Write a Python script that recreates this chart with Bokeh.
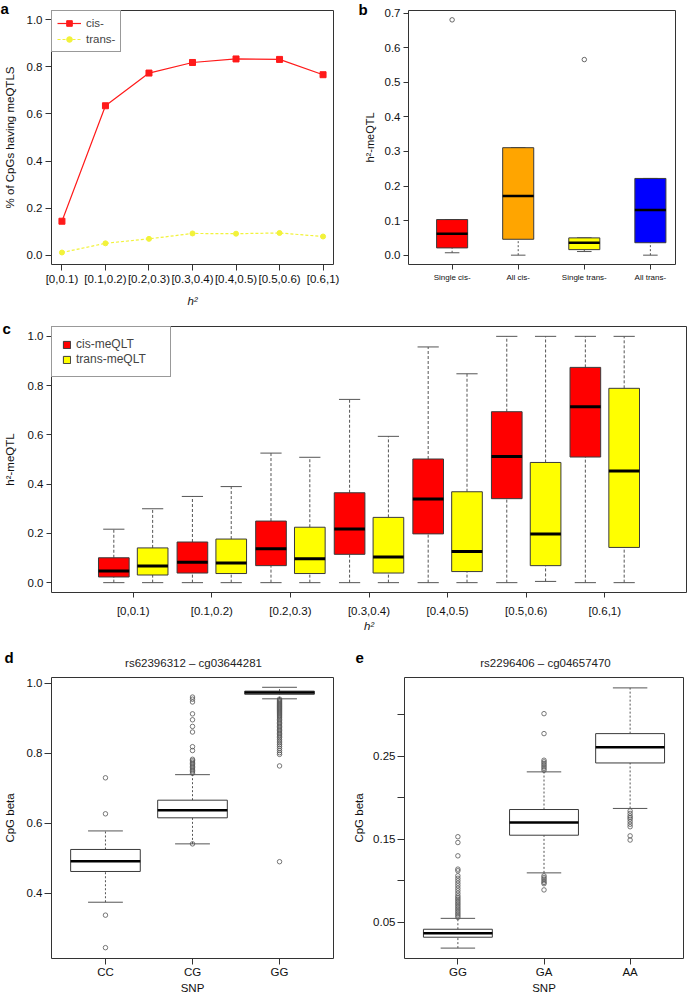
from bokeh.plotting import figure
from bokeh.layouts import column, row
from bokeh.models import FixedTicker, Label, Range1d, PrintfTickFormatter
from bokeh.embed import file_html
from bokeh.resources import INLINE

FONT = "Liberation Sans"

# ---------------- data ----------------
# panel a
a_bins = ["[0,0.1)", "[0.1,0.2)", "[0.2,0.3)", "[0.3,0.4)", "[0.4,0.5)", "[0.5,0.6)", "[0.6,1)"]
a_cis = [0.144, 0.635, 0.774, 0.819, 0.834, 0.832, 0.767]
a_trans = [0.011, 0.050, 0.069, 0.092, 0.091, 0.094, 0.079]

# panel b
b_groups = ["Single cis-", "All cis-", "Single trans-", "All trans-"]
b_low = [0.007, 0.0, 0.0105, 0.0]
b_q1 = [0.021, 0.046, 0.016, 0.036]
b_med = [0.062, 0.171, 0.036, 0.131]
b_q3 = [0.103, 0.311, 0.050, 0.222]
b_up = [0.103, 0.311, 0.050, 0.222]
b_colors = ["#FF0000", "#FFA500", "#FFFF00", "#0000FF"]
b_out_group = ["Single cis-", "Single trans-"]
b_out_val = [0.681, 0.566]

# panel c
c_bins = a_bins
c_cis_low = [0.0, 0.0, 0.0, 0.0, 0.0, 0.0, 0.0]
c_cis_q1 = [0.023, 0.039, 0.069, 0.115, 0.198, 0.341, 0.510]
c_cis_med = [0.047, 0.083, 0.138, 0.218, 0.340, 0.512, 0.714]
c_cis_q3 = [0.101, 0.165, 0.250, 0.365, 0.502, 0.694, 0.874]
c_cis_up = [0.217, 0.350, 0.526, 0.744, 0.957, 1.0, 1.0]
c_trans_low = [0.0, 0.0, 0.0, 0.0, 0.0, 0.005, 0.0]
c_trans_q1 = [0.031, 0.037, 0.037, 0.039, 0.045, 0.069, 0.143]
c_trans_med = [0.068, 0.080, 0.097, 0.104, 0.126, 0.198, 0.453]
c_trans_q3 = [0.141, 0.177, 0.225, 0.265, 0.369, 0.488, 0.789]
c_trans_up = [0.300, 0.390, 0.509, 0.594, 0.848, 1.0, 1.0]

# panel d
d_title = "rs62396312 \u2013 cg03644281"
d_geno = ["CC", "CG", "GG"]
d_low = [0.374, 0.541, 0.956]
d_q1 = [0.462, 0.6155, 0.969]
d_med = [0.4916, 0.637, 0.974]
d_q3 = [0.525, 0.666, 0.978]
d_up = [0.578, 0.739, 0.989]
d_out_CC = [0.730, 0.627, 0.337, 0.244]
d_out_CG = [0.961, 0.955, 0.947, 0.913, 0.896, 0.877, 0.861, 0.819, 0.808,
            0.783, 0.779, 0.775, 0.771, 0.767, 0.763, 0.759, 0.755, 0.751, 0.747, 0.743, 0.541]
d_out_GG = [0.955, 0.952, 0.949, 0.946, 0.943, 0.940, 0.937, 0.934, 0.931, 0.928, 0.925,
            0.922, 0.919, 0.916, 0.913, 0.910, 0.907, 0.904, 0.901, 0.897, 0.893, 0.889,
            0.885, 0.881, 0.877, 0.873, 0.869, 0.865, 0.861, 0.857, 0.853, 0.849, 0.845,
            0.840, 0.835, 0.830, 0.825, 0.820, 0.814, 0.808, 0.802, 0.797, 0.764, 0.490]

# panel e
e_title = "rs2296406 \u2013 cg04657470"
e_geno = ["GG", "GA", "AA"]
e_low = [0.019, 0.1095, 0.187]
e_q1 = [0.0321, 0.1548, 0.2417]
e_med = [0.0369, 0.170, 0.2607]
e_q3 = [0.0417, 0.1857, 0.277]
e_up = [0.0548, 0.231, 0.332]
e_out_GG = [0.056, 0.058, 0.060, 0.062, 0.064, 0.066, 0.068, 0.070, 0.072, 0.074, 0.076,
            0.078, 0.080, 0.082, 0.085, 0.088, 0.091, 0.094, 0.097, 0.100, 0.103, 0.106,
            0.112, 0.114, 0.130, 0.146, 0.153]
e_out_GA = [0.233, 0.235, 0.237, 0.239, 0.241, 0.243, 0.245, 0.277, 0.301,
            0.106, 0.104, 0.102, 0.100, 0.098, 0.0965, 0.089]
e_out_AA = [0.184, 0.181, 0.178, 0.176, 0.174, 0.171, 0.168, 0.165, 0.154, 0.149]


# ---------------- helpers ----------------
def base_fig(w, h, xr, yr, bl, br, bt, bb):
    p = figure(width=w, height=h, x_range=Range1d(*xr), y_range=Range1d(*yr),
               output_backend="svg", toolbar_location=None,
               min_border_left=bl, min_border_right=br, min_border_top=bt, min_border_bottom=bb)
    p.xgrid.visible = False
    p.ygrid.visible = False
    p.outline_line_color = "#333333"
    p.outline_line_alpha = 1
    p.outline_line_width = 1
    for ax in (p.xaxis[0], p.yaxis[0]):
        ax.axis_line_color = None
        ax.major_tick_line_color = "#333333"
        ax.major_tick_in = 0
        ax.major_tick_out = 5
        ax.minor_tick_line_color = None
        ax.major_label_text_font = FONT
        ax.major_label_text_color = "#111111"
        ax.axis_label_text_font = FONT
        ax.axis_label_text_font_style = "normal"
        ax.axis_label_text_color = "#111111"
    return p


def side_text(p, side, txt, x, y, size="15px", bold=True, align="left", color="#000000"):
    p.add_layout(Label(x=x, y=y, x_units="screen", y_units="screen", text=txt,
                       text_font=FONT, text_font_style="bold" if bold else "normal",
                       text_font_size=size, text_color=color, text_align=align,
                       text_baseline="alphabetic"), side)


def boxes(p, xs, low, q1, med, q3, up, w, cap, fill, dash, med_w, legend=None):
    left = [x - w / 2 for x in xs]
    right = [x + w / 2 for x in xs]
    p.segment(x0=xs, x1=xs, y0=q3, y1=up, line_color="#555555", line_dash=dash, line_width=1)
    p.segment(x0=xs, x1=xs, y0=low, y1=q1, line_color="#555555", line_dash=dash, line_width=1)
    cl = [x - cap / 2 for x in xs]
    cr = [x + cap / 2 for x in xs]
    p.segment(x0=cl, x1=cr, y0=up, y1=up, line_color="#555555", line_width=1)
    p.segment(x0=cl, x1=cr, y0=low, y1=low, line_color="#555555", line_width=1)
    kw = {} if legend is None else {"legend_label": legend}
    r = p.quad(left=left, right=right, bottom=q1, top=q3, fill_color=fill,
               line_color="#3a3a3a", line_width=1, **kw)
    p.segment(x0=left, x1=right, y0=med, y1=med, line_color="#000000", line_width=med_w)
    return r


# ---------------- panel a ----------------
A_W, A_H, A_L, A_R, A_T, A_B = 355, 309, 49, 22, 9, 45
a_x = list(range(1, len(a_bins) + 1))
pa = base_fig(A_W, A_H, (0.76, 7.24), (-0.04, 1.04), A_L, A_R, A_T, A_B)
pa.line(a_x, a_cis, line_color="#FF1A1A", line_width=1.2, legend_label="cis-")
pa.scatter(a_x, a_cis, marker="square", size=6, fill_color="#FF1A1A", line_color="#FF1A1A",
           legend_label="cis-")
pa.line(a_x, a_trans, line_color="#F2F23A", line_width=1.2, line_dash="3 2", legend_label="trans-")
pa.scatter(a_x, a_trans, marker="circle", size=5, fill_color="#F2F23A", line_color="#F2F23A",
           legend_label="trans-")
pa.xaxis.ticker = FixedTicker(ticks=a_x)
pa.xaxis.major_label_overrides = {x: b for x, b in zip(a_x, a_bins)}
pa.xaxis.major_label_text_font_size = "11.5px"
pa.xaxis.major_label_standoff = 2
pa.xaxis.axis_label = "h\u00b2"
pa.xaxis.axis_label_text_font_style = "italic"
pa.xaxis.axis_label_text_font_size = "11.5px"
pa.xaxis.axis_label_standoff = 7
pa.yaxis.ticker = FixedTicker(ticks=[0.0, 0.2, 0.4, 0.6, 0.8, 1.0])
pa.yaxis.formatter = PrintfTickFormatter(format="%.1f")
pa.yaxis.major_label_text_font_size = "11.5px"
pa.yaxis.major_label_standoff = 3
pa.yaxis.axis_label = "% of CpGs having meQTLS"
pa.yaxis.axis_label_text_font_size = "11.5px"
pa.yaxis.axis_label_standoff = 8
pa.xaxis.major_tick_out = 6
pa.yaxis.major_tick_out = 6
lg = pa.legend[0]
lg.location = "top_left"
lg.margin = 0
lg.padding = 5
lg.spacing = 2
lg.label_height = 14
lg.glyph_height = 14
lg.glyph_width = 24
lg.label_standoff = 5
lg.label_text_font = FONT
lg.label_text_font_size = "11.5px"
lg.border_line_color = "#333333"
lg.border_line_width = 1
lg.background_fill_alpha = 1
# letter drawn from the right-hand side panel (unclipped), positioned to the far left
side_text(pa, "right", "a", 0 - (A_W - A_R), (A_H - A_B) - 8)

# ---------------- panel b ----------------
B_W, B_H, B_L, B_R, B_T, B_B = 339, 309, 53, 19, 10, 45
b_x = list(range(1, len(b_groups) + 1))
pb = base_fig(B_W, B_H, (0.34, 4.38), (-0.027, 0.708), B_L, B_R, B_T, B_B)
boxes(pb, b_x, b_low, b_q1, b_med, b_q3, b_up, 0.47, 0.22, b_colors, "2 2", 2.5)
pb.scatter([b_x[b_groups.index(g)] for g in b_out_group], b_out_val, marker="circle", size=4.5,
           fill_color=None, line_color="#444444", line_width=0.8)
pb.xaxis.ticker = FixedTicker(ticks=b_x)
pb.xaxis.major_label_overrides = {x: g for x, g in zip(b_x, b_groups)}
pb.xaxis.major_label_text_font_size = "8px"
pb.xaxis.major_label_standoff = 3
pb.yaxis.ticker = FixedTicker(ticks=[0.0, 0.1, 0.2, 0.3, 0.4, 0.5, 0.6, 0.7])
pb.yaxis.formatter = PrintfTickFormatter(format="%.1f")
pb.yaxis.major_label_text_font_size = "11.5px"
pb.yaxis.major_label_standoff = 3
pb.yaxis.axis_label = "h\u00b2-meQTL"
pb.yaxis.axis_label_text_font_size = "11px"
pb.yaxis.axis_label_standoff = 6
side_text(pb, "right", "b", 3 - (B_W - B_R), (B_H - B_B) - 9)

# ---------------- panel c ----------------
C_W, C_H, C_L, C_R, C_T, C_B = 694, 331, 49, 8, 4, 48
c_x = list(range(1, len(c_bins) + 1))
pc = base_fig(C_W, C_H, (-0.04, 8.04), (-0.04, 1.04), C_L, C_R, C_T, C_B)
r_cis = boxes(pc, [x - 0.247 for x in c_x], c_cis_low, c_cis_q1, c_cis_med, c_cis_q3, c_cis_up,
              0.39, 0.27, "#FF0000", "3 2", 3, legend="cis-meQLT")
r_tr = boxes(pc, [x + 0.247 for x in c_x], c_trans_low, c_trans_q1, c_trans_med, c_trans_q3,
             c_trans_up, 0.39, 0.27, "#FFFF00", "3 2", 3, legend="trans-meQLT")
pc.xaxis.ticker = FixedTicker(ticks=c_x)
pc.xaxis.major_label_overrides = {x: b for x, b in zip(c_x, c_bins)}
pc.xaxis.major_label_text_font_size = "11.5px"
pc.xaxis.major_label_standoff = 7
pc.xaxis.axis_label = "h\u00b2"
pc.xaxis.axis_label_text_font_style = "italic"
pc.xaxis.axis_label_text_font_size = "11.5px"
pc.xaxis.axis_label_standoff = 0
pc.yaxis.ticker = FixedTicker(ticks=[0.0, 0.2, 0.4, 0.6, 0.8, 1.0])
pc.yaxis.formatter = PrintfTickFormatter(format="%.1f")
pc.yaxis.major_label_text_font_size = "11.5px"
pc.yaxis.major_label_standoff = 3
pc.yaxis.axis_label = "h\u00b2-meQTL"
pc.yaxis.axis_label_text_font_size = "11.5px"
pc.yaxis.axis_label_standoff = 9
lc = pc.legend[0]
lc.location = "top_left"
lc.margin = 0
lc.padding = 10
lc.spacing = 1
lc.label_height = 14
lc.glyph_height = 9
lc.glyph_width = 9
lc.label_standoff = 5
lc.label_text_font = FONT
lc.label_text_font_size = "12px"
lc.label_width = 84
lc.border_line_color = "#333333"
lc.border_line_width = 1
lc.background_fill_alpha = 1
side_text(pc, "above", "c", 0 - C_L, -2)


# ---------------- panels d / e ----------------
def snp_panel(w, bl, br, yr, geno, low, q1, med, q3, up, outs, title, yticks, minor, fmt,
              lt, lx, ylab_standoff):
    xs = list(range(1, len(geno) + 1))
    p = base_fig(w, 356, (0.38, 3.62), yr, bl, br, 37, 36)
    boxes(p, xs, low, q1, med, q3, up, 0.8, 0.4, "#FFFFFF", "2 2", 2.5)
    for x, o in zip(xs, outs):
        p.scatter([x] * len(o), o, marker="circle", size=4.5, fill_color=None,
                  line_color="#555555", line_width=0.8)
    p.xaxis.ticker = FixedTicker(ticks=xs)
    p.xaxis.major_label_overrides = {x: g for x, g in zip(xs, geno)}
    p.xaxis.major_label_text_font_size = "11.5px"
    p.xaxis.major_label_standoff = 1
    p.xaxis.major_tick_out = 6
    p.xaxis.axis_label = "SNP"
    p.xaxis.axis_label_text_font_size = "11.5px"
    p.xaxis.axis_label_standoff = 1
    p.yaxis.ticker = FixedTicker(ticks=yticks, minor_ticks=minor)
    p.yaxis.formatter = PrintfTickFormatter(format=fmt)
    p.yaxis.minor_tick_line_color = "#333333"
    p.yaxis.minor_tick_in = 0
    p.yaxis.minor_tick_out = 7
    p.yaxis.major_tick_out = 7
    p.yaxis.major_label_text_font_size = "11.5px"
    p.yaxis.major_label_standoff = 2
    p.yaxis.axis_label = "CpG beta"
    p.yaxis.axis_label_text_font_size = "11.5px"
    p.yaxis.axis_label_standoff = ylab_standoff
    fw = w - bl - br
    side_text(p, "above", title, fw / 2, 15, size="11.5px", bold=False, align="center",
              color="#222222")
    side_text(p, "above", lt, lx - bl, 8)
    return p


pd_ = snp_panel(350, 49, 17, (0.213, 1.017), d_geno, d_low, d_q1, d_med, d_q3, d_up,
                [d_out_CC, d_out_CG, d_out_GG], d_title, [0.4, 0.6, 0.8, 1.0], [], "%.1f",
                "d", 2, 8)
pe = snp_panel(344, 51, 11, (0.0065, 0.3445), e_geno, e_low, e_q1, e_med, e_q3, e_up,
               [e_out_GG, e_out_GA, e_out_AA], e_title, [0.05, 0.15, 0.25], [0.10, 0.20, 0.30],
               "%.2f", "e", 2, 5)

layout = column(row(pa, pb), pc, row(pd_, pe))
open("out.html", "w").write(file_html(layout, INLINE))
